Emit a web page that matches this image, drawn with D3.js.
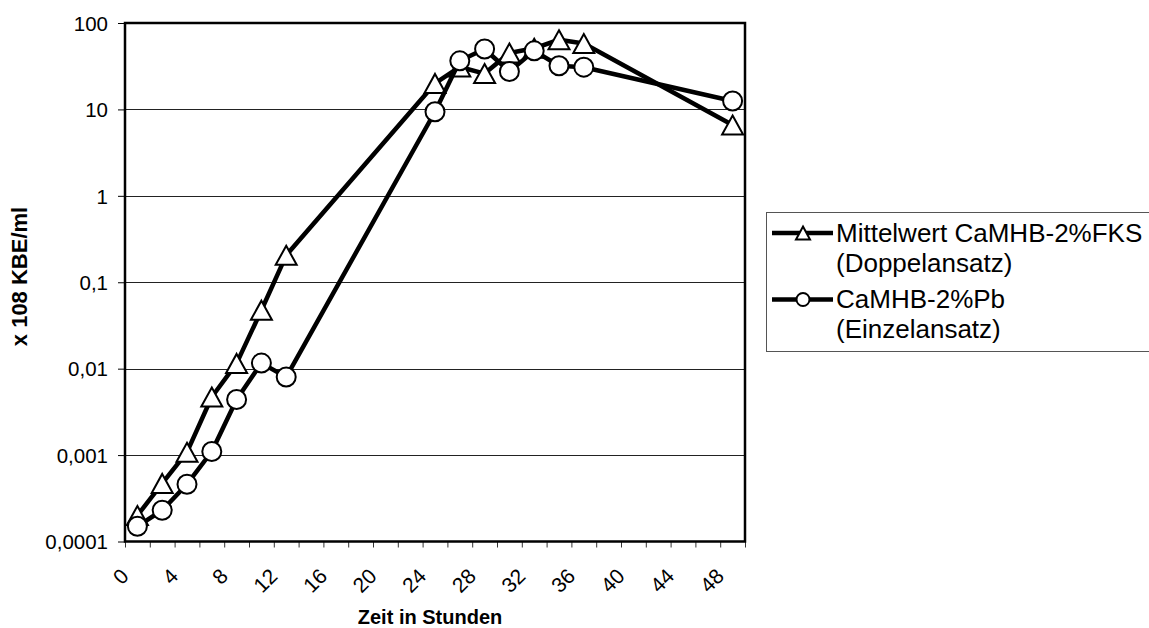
<!DOCTYPE html>
<html>
<head>
<meta charset="utf-8">
<script src="https://cdn.jsdelivr.net/npm/d3@7"></script>
<style>
  html, body { margin: 0; padding: 0; background: #fff; }
  svg { display: block; font-family: "Liberation Sans", Arial, Helvetica, sans-serif; }
</style>
</head>
<body>
<svg id="chart" width="1149" height="628"></svg>
<script>
// Zeitpunkte der Probenahme (Stunden)
const hours = [1, 3, 5, 7, 9, 11, 13, 25, 27, 29, 31, 33, 35, 37, 49];
// Keimzahl x 10^8 KBE/ml
const fksValues = [0.0002, 0.00047, 0.00108, 0.0047, 0.0115, 0.0475, 0.205, 20, 31, 26, 45, 51, 64, 58, 6.6];
const pbValues  = [0.00015, 0.00023, 0.00046, 0.0011, 0.0044, 0.0116, 0.008, 9.4, 36.5, 50, 27.4, 47.6, 32, 30.8, 12.5];

const seriesNames = [
  ["Mittelwert CaMHB-2%FKS", "(Doppelansatz)"],
  ["CaMHB-2%Pb", "(Einzelansatz)"]
];
const yTickValues = [0.0001, 0.001, 0.01, 0.1, 1, 10, 100];
const yTickLabels = ["0,0001", "0,001", "0,01", "0,1", "1", "10", "100"];
const xTickValues = d3.range(0, 51, 2);
const xLabelValues = d3.range(0, 49, 4);
const xTitle = "Zeit in Stunden";
const yTitle = "x 108 KBE/ml";

const svg = d3.select("#chart");
const plot = { left: 125, top: 23, right: 745, bottom: 541.5 };

const x = d3.scaleLinear().domain([0, 50]).range([plot.left, plot.right]);
const y = d3.scaleLog().domain([0.0001, 100]).range([plot.bottom, plot.top]);

// horizontal gridlines at each decade
svg.append("g")
  .selectAll("line")
  .data(yTickValues.slice(1, -1))
  .join("line")
  .attr("x1", plot.left).attr("x2", plot.right)
  .attr("y1", d => Math.round(y(d)) + 0.5).attr("y2", d => Math.round(y(d)) + 0.5)
  .attr("stroke", "#222").attr("stroke-width", 1);

// y axis ticks and labels
const yAxis = svg.append("g")
  .attr("transform", `translate(${plot.left},0)`)
  .call(d3.axisLeft(y).tickValues(yTickValues)
    .tickFormat((d, i) => yTickLabels[i]).tickSize(7).tickSizeOuter(0).tickPadding(10));
yAxis.select(".domain").remove();
yAxis.selectAll(".tick line").attr("stroke", "#000").attr("stroke-width", 1);
yAxis.selectAll(".tick text")
  .attr("font-size", 20.5).attr("fill", "#000").attr("dy", "0.35em");

// x axis ticks
const xAxis = svg.append("g")
  .attr("transform", `translate(0,${plot.bottom})`)
  .call(d3.axisBottom(x).tickValues(xTickValues).tickFormat("").tickSize(6).tickSizeOuter(0));
xAxis.select(".domain").remove();
xAxis.selectAll(".tick line").attr("stroke", "#333").attr("stroke-width", 1);

// rotated x labels
svg.append("g")
  .selectAll("text")
  .data(xLabelValues)
  .join("text")
  .attr("transform", d => `translate(${x(d) + 5},${plot.bottom + 36}) rotate(-45)`)
  .attr("text-anchor", "end")
  .attr("font-size", 21)
  .attr("fill", "#000")
  .text(d => d);

// plot frame
svg.append("rect")
  .attr("x", plot.left).attr("y", plot.top)
  .attr("width", plot.right - plot.left).attr("height", plot.bottom - plot.top)
  .attr("fill", "none").attr("stroke", "#000").attr("stroke-width", 2.5);

// axis titles
svg.append("text")
  .attr("x", (plot.left + plot.right) / 2 - 5).attr("y", 624)
  .attr("text-anchor", "middle").attr("font-weight", "bold").attr("font-size", 20)
  .text(xTitle);

svg.append("text")
  .attr("transform", "translate(27,276.5) rotate(-90)")
  .attr("text-anchor", "middle").attr("font-weight", "bold").attr("font-size", 22)
  .text(yTitle);

// marker shapes
const triPath = (w, h) => `M0,${-h / 2}L${w / 2},${h / 2}L${-w / 2},${h / 2}Z`;

const line = d3.line().x(d => x(d[0])).y(d => y(d[1]));

const series = [
  { values: fksValues, marker: "triangle" },
  { values: pbValues, marker: "circle" }
];

series.forEach(s => {
  const pts = hours.map((h, i) => [h, s.values[i]]);
  const g = svg.append("g");
  g.append("path")
    .attr("d", line(pts))
    .attr("fill", "none").attr("stroke", "#000")
    .attr("stroke-width", 4.5).attr("stroke-linejoin", "round");
  const m = g.selectAll(".m").data(pts).join("g")
    .attr("transform", d => `translate(${x(d[0])},${y(d[1])})`);
  if (s.marker === "triangle") {
    m.append("path").attr("d", triPath(21, 19))
      .attr("fill", "#fff").attr("stroke", "#000").attr("stroke-width", 2);
  } else {
    m.append("circle").attr("r", 9.5)
      .attr("fill", "#fff").attr("stroke", "#000").attr("stroke-width", 2);
  }
});

// legend
const legend = svg.append("g");
legend.append("rect")
  .attr("x", 766.5).attr("y", 212.5).attr("width", 420).attr("height", 139)
  .attr("fill", "#fff").attr("stroke", "#555").attr("stroke-width", 1);

series.forEach((s, i) => {
  const cy = 233 + i * 66.5;
  const lg = legend.append("g");
  lg.append("line")
    .attr("x1", 772).attr("x2", 833).attr("y1", cy).attr("y2", cy)
    .attr("stroke", "#000").attr("stroke-width", 4.5);
  if (s.marker === "triangle") {
    lg.append("path").attr("d", triPath(14, 13))
      .attr("transform", `translate(803,${cy})`)
      .attr("fill", "#fff").attr("stroke", "#000").attr("stroke-width", 2);
  } else {
    lg.append("circle").attr("cx", 803).attr("cy", cy).attr("r", 6.5)
      .attr("fill", "#fff").attr("stroke", "#000").attr("stroke-width", 2);
  }
  seriesNames[i].forEach((t, j) => {
    lg.append("text")
      .attr("x", 836).attr("y", cy + 8.5 + j * 30)
      .attr("font-size", 26).attr("fill", "#000")
      .text(t);
  });
});
</script>
</body>
</html>
